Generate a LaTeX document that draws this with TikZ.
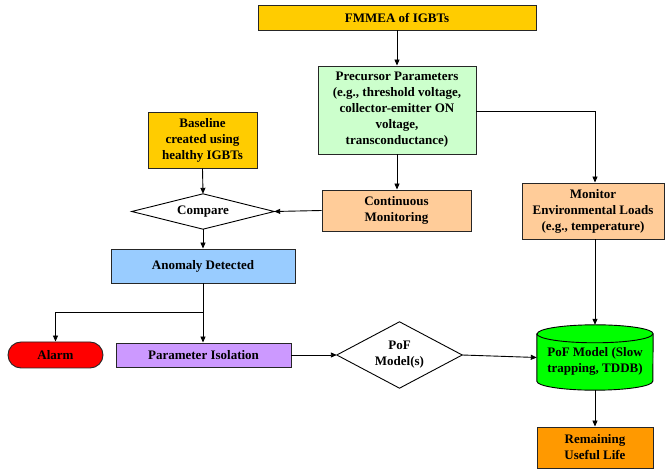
\documentclass[tikz,border=0pt]{standalone}
\usepackage{fontspec}
\setmainfont{Liberation Serif}
\usetikzlibrary{arrows.meta,calc,shapes.misc}
\definecolor{cgold}{HTML}{FFCC00}
\definecolor{cgreenl}{HTML}{CCFFCC}
\definecolor{cpeach}{HTML}{FFCC99}
\definecolor{cblue}{HTML}{99CCFF}
\definecolor{cred}{HTML}{FF0000}
\definecolor{cpurp}{HTML}{CC99FF}
\definecolor{cgreen}{HTML}{00FF00}
\definecolor{corange}{HTML}{FF9900}
\begin{document}
\begin{tikzpicture}[x=1pt,y=-1pt,
  font=\fontsize{13}{16}\selectfont\bfseries,
  box/.style={draw=black!85,line width=0.9pt,inner sep=0pt,align=center},
  ghost/.style={inner sep=0pt,align=center},
  arr/.style={-{Triangle[length=6pt,width=5pt]},line width=0.9pt,black}]
\useasboundingbox (0,0) rectangle (665,470);

\node[box,fill=cgold,minimum width=278,minimum height=25] (fmmea) at (397,17.5) {FMMEA of IGBTs};
\node[box,fill=cgreenl,minimum width=158,minimum height=88] (prec) at (397,110)
  {Precursor Parameters\\(e.g., threshold voltage,\\collector-emitter ON\\voltage,\\transconductance)};
\node[box,fill=cgold,minimum width=109,minimum height=56] (base) at (202.5,140)
  {Baseline\\created using\\healthy IGBTs};
\node[ghost,minimum width=142,minimum height=35] (cmp) at (203,211.5) {};
\draw[line width=0.9pt,fill=white] (cmp.west)--(cmp.north)--(cmp.east)--(cmp.south)--cycle;
\node[ghost] at (cmp.center) {Compare};
\node[box,fill=cpeach,minimum width=149,minimum height=41] (cm) at (396.5,210.5)
  {Continuous\\Monitoring};
\node[box,fill=cblue,minimum width=184,minimum height=34] (anom) at (203,266) {Anomaly Detected};
\node[box,fill=cred,rounded rectangle,minimum width=95,minimum height=26] (alarm) at (55.5,355) {Alarm};
\node[box,fill=cpurp,minimum width=175,minimum height=24] (piso) at (203.5,355) {Parameter Isolation};
\node[ghost,minimum width=125,minimum height=66] (pofd) at (399.5,355) {};
\draw[line width=0.9pt,fill=white] (pofd.west)--(pofd.north)--(pofd.east)--(pofd.south)--cycle;
\node[ghost] at (pofd.center) {PoF\\Model(s)};
\node[box,fill=cpeach,minimum width=142,minimum height=56] (mon) at (593,211)
  {Monitor\\Environmental Loads\\(e.g., temperature)};
\node[ghost,minimum width=116,minimum height=65] (pof) at (595,357.5) {};
\draw[line width=0.9pt,fill=cgreen]
  ($(pof.north west)+(0,9)$) -- ($(pof.south west)+(0,-9)$)
  arc[start angle=180,end angle=360,x radius=58,y radius=-9]
  -- ($(pof.north east)+(0,9)$)
  arc[start angle=0,end angle=-180,x radius=58,y radius=9] -- cycle;
\draw[line width=0.9pt] ($(pof.north west)+(0,9)$)
  arc[start angle=180,end angle=360,x radius=58,y radius=-9];
\node[ghost] at ($(pof.center)+(0,4)$) {PoF Model (Slow\\trapping, TDDB)};
\node[box,fill=corange,minimum width=116,minimum height=41] (rul) at (595,447.5)
  {Remaining\\Useful Life};

\coordinate (split) at ($(anom.south)+(0,29)$);
\draw[arr] (fmmea.south) -- (prec.north);
\draw[arr] (prec.south) -- (prec.south |- cm.north);
\draw[arr] ($(prec.east)+(0,1)$) -| (pof.north |- mon.north);
\draw[arr] (pof.north |- mon.south) -- (pof.north);
\draw[arr] (cm.west) -- (cmp.east);
\draw[arr] (base.south) -- (cmp.north);
\draw[arr] (cmp.south) -- (anom.north);
\draw[line width=0.9pt] (anom.south) -- (split);
\draw[arr] (split) -- (split |- piso.north);
\draw[arr] (split) -| (alarm.north);
\draw[arr] (piso.east) -- (pofd.west);
\draw[arr] (pofd.east) -- (pof.west);
\draw[arr] (pof.south) -- (rul.north);
\end{tikzpicture}
\end{document}
